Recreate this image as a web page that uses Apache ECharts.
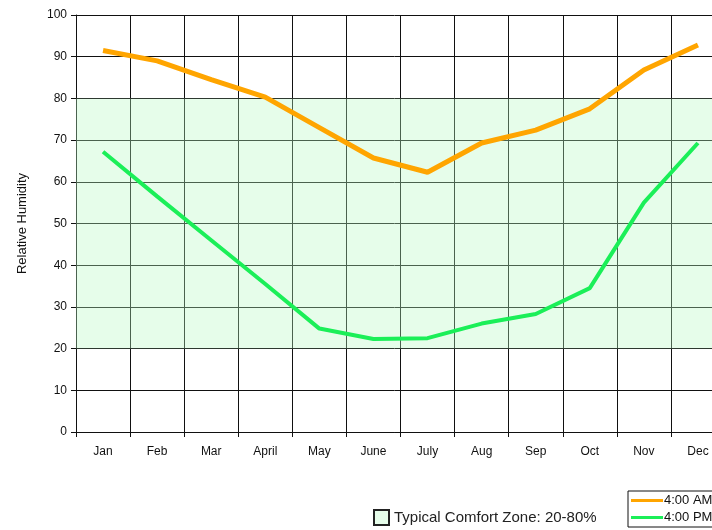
<!DOCTYPE html>
<html>
<head>
<meta charset="utf-8">
<script src="https://cdn.jsdelivr.net/npm/echarts@6/dist/echarts.min.js"></script>
<style>
  html, body { margin: 0; padding: 0; background: #fff; }
  #chart { width: 712px; height: 530px; }
</style>
</head>
<body>
<div id="chart"></div>
<script>
const months = ['Jan', 'Feb', 'Mar', 'April', 'May', 'June', 'July', 'Aug', 'Sep', 'Oct', 'Nov', 'Dec']
const am = [91.5, 89, 84.5, 80.3, 73, 65.7, 62.3, 69.3, 72.4, 77.5, 86.8, 92.8]
const pm = [67.2, 56.5, 46, 35.5, 24.8, 22.3, 22.5, 26, 28.3, 34.5, 55, 69.3]
const comfortZone = [20, 80]

const chart = echarts.init(document.getElementById('chart'))
const gridLine = { color: '#111', width: 1 }

chart.setOption({
  animation: false,
  textStyle: { fontFamily: 'Liberation Sans, Arial, sans-serif' },
  grid: { left: 76, width: 649, top: 15, height: 417, outerBoundsMode: 'none', containLabel: false },
  legend: [{
    data: [{ name: 'Typical Comfort Zone: 20-80%', icon: 'rect' }],
    left: 368,
    top: 504,
    itemWidth: 15,
    itemHeight: 15,
    itemGap: 12,
    textStyle: { fontSize: 15, color: '#222' }
  }, {
    data: ['4:00 AM', '4:00 PM'],
    orient: 'vertical',
    left: 628,
    top: 491,
    padding: [3, 26, 3, 3],
    itemGap: 4,
    itemWidth: 32,
    itemHeight: 3,
    icon: 'rect',
    borderColor: '#111',
    borderWidth: 1,
    textStyle: { fontSize: 13, color: '#111', padding: [0, 0, 0, -4] }
  }],
  xAxis: {
    type: 'category',
    data: months,
    boundaryGap: true,
    axisLine: { lineStyle: gridLine },
    axisTick: { show: true, length: 5, lineStyle: gridLine },
    axisLabel: { color: '#111', fontSize: 12, margin: 14 },
    splitLine: { show: true, interval: 0, lineStyle: gridLine }
  },
  yAxis: {
    type: 'value',
    min: 0,
    max: 100,
    interval: 10,
    name: 'Relative Humidity',
    nameLocation: 'middle',
    nameGap: 47,
    nameTextStyle: { color: '#111', fontSize: 13 },
    axisLine: { show: true, lineStyle: gridLine },
    axisTick: { show: true, length: 5, lineStyle: gridLine },
    axisLabel: { color: '#111', fontSize: 12, margin: 9 },
    splitLine: { show: true, lineStyle: gridLine }
  },
  series: [{
    name: 'Typical Comfort Zone: 20-80%',
    type: 'line',
    data: [],
    itemStyle: { color: '#e6fdea', borderColor: '#222', borderWidth: 1 },
    lineStyle: { width: 0 },
    markArea: {
      silent: true,
      itemStyle: { color: 'rgba(184,249,195,0.35)' },
      data: [[{ yAxis: comfortZone[0] }, { yAxis: comfortZone[1] }]]
    }
  }, {
    name: '4:00 AM',
    type: 'line',
    data: am,
    showSymbol: false,
    itemStyle: { color: '#ffa500' },
    lineStyle: { width: 5, color: '#ffa500' },
    z: 5
  }, {
    name: '4:00 PM',
    type: 'line',
    data: pm,
    showSymbol: false,
    itemStyle: { color: '#1bef58' },
    lineStyle: { width: 4, color: '#1bef58' },
    z: 5
  }]
})
</script>
</body>
</html>
